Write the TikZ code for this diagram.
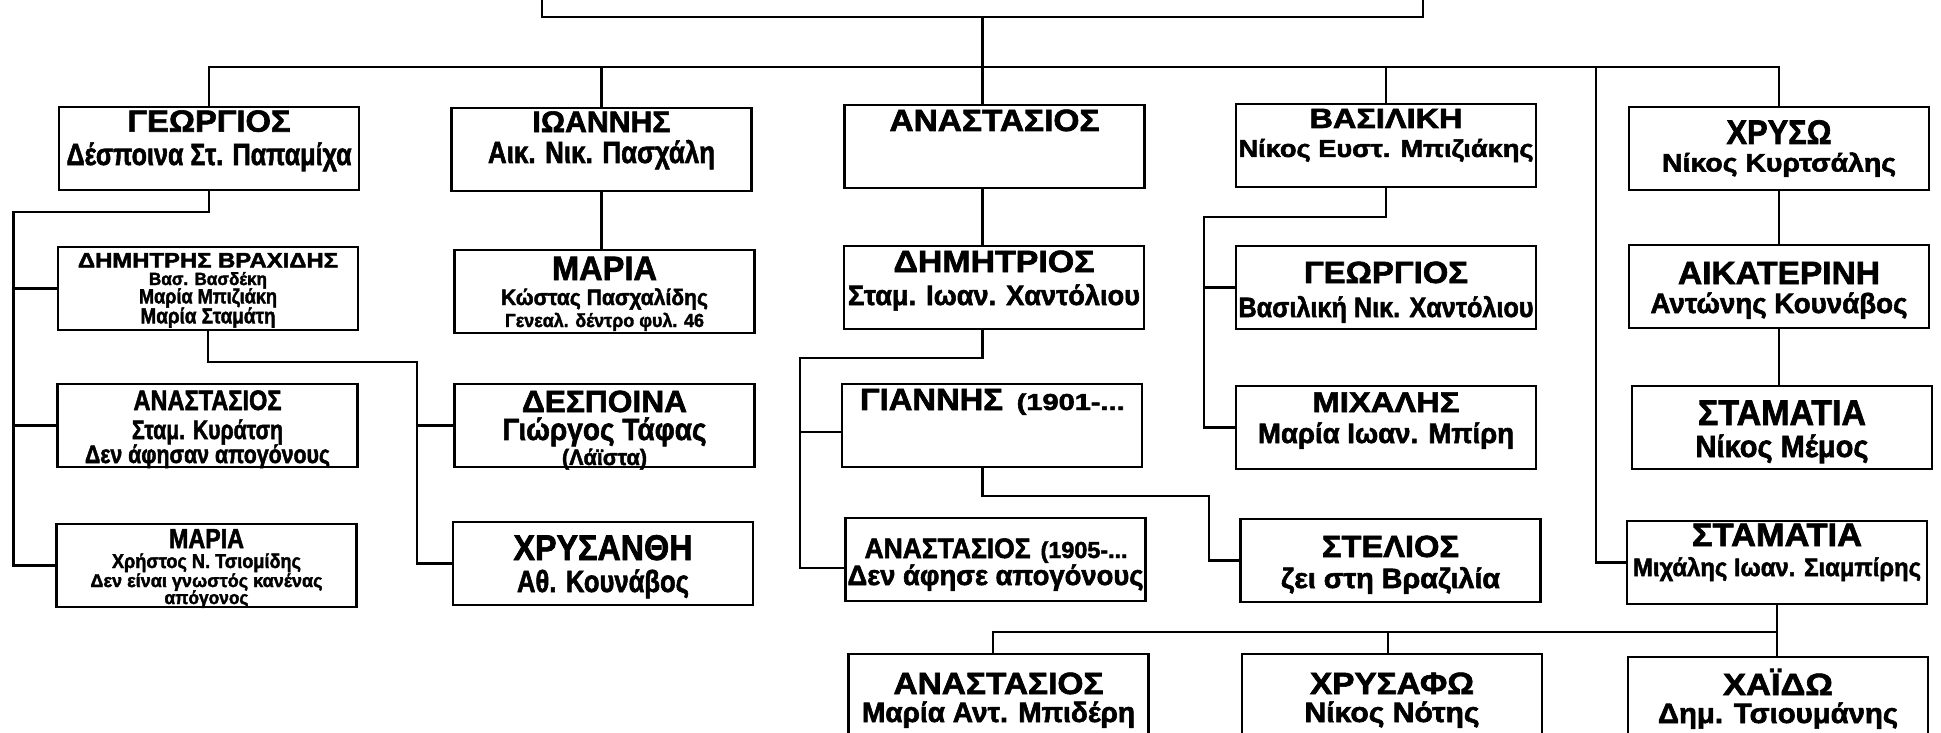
\documentclass[tikz,border=0pt]{standalone}
\usepackage{fontspec}
\setmainfont{Liberation Sans}[BoldFeatures={FakeBold=2}]
\usetikzlibrary{calc}
\newcommand\capf{1.1}
\newcommand\lc{1.2}
\newcommand\fitt[4][\capf]{\resizebox{#2pt}{#1\height}{\fontsize{#3pt}{#3pt}\selectfont\bfseries #4}}
\tikzset{
  box/.style={draw, line width=2.6pt, rectangle, minimum width=300pt, minimum height=83pt, inner sep=0pt, outer sep=0pt},
  tx/.style={anchor=base, inner sep=0pt, outer sep=0pt},
  link/.style={line width=2.4pt}
}
\begin{document}
\begin{tikzpicture}[x=1pt,y=-1pt]
\useasboundingbox (0,0) rectangle (1941,733);
\clip (0,0) rectangle (1941,733);
% boxes
\node[box, minimum width=881pt, minimum height=80pt] (T) at (982.5,-23) {};
\node[box] (B1) at (209,148.5) {};
\node[box] (B2) at (601.5,149.5) {};
\node[box] (B3) at (994.5,146.5) {};
\node[box] (B4) at (1386,145.5) {};
\node[box] (B5) at (1779,148.5) {};
\node[box] (B1a) at (208,288.5) {};
\node[box] (B1b) at (207.5,425.5) {};
\node[box] (B1c) at (206.5,565.5) {};
\node[box] (B2a) at (604.5,291.5) {};
\node[box] (B1a1) at (604.5,425.5) {};
\node[box] (B1a2) at (603,563.5) {};
\node[box] (B3a) at (994,287.5) {};
\node[box] (B3a1) at (992,425.5) {};
\node[box] (B3a2) at (995.5,559.5) {};
\node[box] (B3a1a) at (1390.5,560.5) {};
\node[box] (B4a) at (1386,287.5) {};
\node[box] (B4b) at (1386,427.5) {};
\node[box] (B5a) at (1779,286.5) {};
\node[box] (B5b) at (1782,427.5) {};
\node[box] (B6) at (1777,562.5) {};
\node[box] (B6a) at (998.5,695.5) {};
\node[box] (B6b) at (1392,695.5) {};
\node[box] (B6c) at (1778,698.5) {};
% connectors
\coordinate (bar) at (0,67);
\coordinate (x3) at (982.5,0);
\draw[link] (T.south) -- (T.south |- B3.north);
\draw[link] (B1.north) |- (B5.north |- bar) -- (B5.north);
\draw[link] (B2.north) -- (B2.north |- bar);
\draw[link] (B4.north) -- (B4.north |- bar);
\coordinate (v6) at (1596,67);
\draw[link] (v6) |- (B6.west);
\coordinate (g1) at (13.5,212);
\draw[link] (B1.south) |- (g1) |- (B1c.west);
\draw[link] (g1 |- B1a.west) -- (B1a.west);
\draw[link] (g1 |- B1b.west) -- (B1b.west);
\coordinate (g2) at (417,362);
\draw[link] (B1a.south) |- (g2) |- (B1a2.west);
\draw[link] (g2 |- B1a1.west) -- (B1a1.west);
\draw[link] (B2.south) -- (B2.south |- B2a.north);
\draw[link] (B3.south -| x3) -- (B3a.north -| x3);
\coordinate (g3) at (800,358);
\coordinate (h31) at (800,432);
\coordinate (h32) at (800,568);
\draw[link] (B3a.south -| x3) |- (g3) |- (B3a2.west |- h32);
\draw[link] (h31) -- (B3a1.west |- h31);
\coordinate (g4) at (1209,496);
\draw[link] (B3a1.south -| x3) |- (g4) |- (B3a1a.west);
\coordinate (g5) at (1204,217);
\draw[link] (B4.south) |- (g5) |- (B4b.west);
\draw[link] (g5 |- B4a.west) -- (B4a.west);
\draw[link] (B5.south) -- (B5.south |- B5a.north);
\draw[link] (B5a.south) -- (B5a.south |- B5b.north);
\coordinate (bar2) at (993,632);
\coordinate (x6b) at (1388,0);
\draw[link] (B6.south) -- (B6.south |- B6c.north);
\draw[link] (B6.south |- bar2) -- (bar2) -- (bar2 |- B6a.north);
\draw[link] (x6b |- bar2) -- (x6b |- B6b.north);
% texts
\node[tx] (t1a) at (209,131.7) {\fitt{163}{27.9}{ΓΕΩΡΓΙΟΣ}};
\node[tx] (t1b) at (209,165) {\fitt[\lc]{285}{25.6}{Δέσποινα Στ. Παπαμίχα}};
\node[tx] (t2a) at (601.5,132) {\fitt{138}{27}{ΙΩΑΝΝΗΣ}};
\node[tx] (t2b) at (601.5,163) {\fitt[\lc]{227}{25.6}{Αικ. Νικ. Πασχάλη}};
\node[tx] (t3a) at (994.5,131) {\fitt{210}{27.9}{ΑΝΑΣΤΑΣΙΟΣ}};
\node[tx] (t4a) at (1386,128) {\fitt[1]{153}{27.9}{ΒΑΣΙΛΙΚΗ}};
\node[tx] (t4b) at (1386,157) {\fitt[1.05]{295}{23.3}{Νίκος Ευστ. Μπιζιάκης}};
\node[tx] (t5a) at (1779,144) {\fitt[1.05]{105}{32.5}{ΧΡΥΣΩ}};
\node[tx] (t5b) at (1779,171.5) {\fitt[1.05]{234}{24.2}{Νίκος Κυρτσάλης}};
\node[tx] (t1aa) at (208,267.5) {\fitt[1]{260}{21}{ΔΗΜΗΤΡΗΣ ΒΡΑΧΙΔΗΣ}};
\node[tx] (t1ab) at (208,285) {\fitt[1.05]{118}{16.8}{Βασ. Βασδέκη}};
\node[tx] (t1ac) at (208,303.3) {\fitt[1.1]{138}{18.6}{Μαρία Μπιζιάκη}};
\node[tx] (t1ad) at (208,323.3) {\fitt[1.1]{135}{19.6}{Μαρία Σταμάτη}};
\node[tx] (t1ba) at (207.5,410) {\fitt{148}{25.6}{ΑΝΑΣΤΑΣΙΟΣ}};
\node[tx] (t1bb) at (207.5,439) {\fitt[\lc]{151}{22.3}{Σταμ. Κυράτση}};
\node[tx] (t1bc) at (207.5,463) {\fitt[\lc]{245}{21}{Δεν άφησαν απογόνους}};
\node[tx] (t1ca) at (206.5,548) {\fitt{75}{25}{ΜΑΡΙΑ}};
\node[tx] (t1cb) at (206.5,568) {\fitt[1.1]{189}{18.2}{Χρήστος Ν. Τσιομίδης}};
\node[tx] (t1cc) at (206.5,587) {\fitt[1.1]{232}{16.8}{Δεν είναι γνωστός κανένας}};
\node[tx] (t1cd) at (206.5,604) {\fitt[1.1]{84}{16.8}{απόγονος}};
\node[tx] (t2aa) at (604.5,280) {\fitt{105}{30.7}{ΜΑΡΙΑ}};
\node[tx] (t2ab) at (604.5,305) {\fitt[\lc]{207}{18.6}{Κώστας Πασχαλίδης}};
\node[tx] (t2ac) at (604.5,327) {\fitt[\lc]{199}{15.8}{Γενεαλ. δέντρο φυλ. 46}};
\node[tx] (t1a1a) at (604.5,412) {\fitt{165}{27.9}{ΔΕΣΠΟΙΝΑ}};
\node[tx] (t1a1b) at (604.5,440) {\fitt[\lc]{204}{25.6}{Γιώργος Τάφας}};
\node[tx] (t1a1c) at (604.5,465) {\fitt[\lc]{85}{18.6}{(Λάϊστα)}};
\node[tx] (t1a2a) at (603,560) {\fitt{179}{32.5}{ΧΡΥΣΑΝΘΗ}};
\node[tx] (t1a2b) at (603,592) {\fitt[\lc]{172}{25.6}{Αθ. Κουνάβος}};
\node[tx] (t3aa) at (994,272) {\fitt{201}{27.9}{ΔΗΜΗΤΡΙΟΣ}};
\node[tx] (t3ab) at (994,305) {\fitt[\lc]{292}{23.3}{Σταμ. Ιωαν. Χαντόλιου}};
\node[tx, anchor=base west] (t3a1a) at (860,410) {\fitt{143}{27.9}{ΓΙΑΝΝΗΣ}\hspace{13.7pt}\fitt{108}{21}{(1901-...}};
\node[tx, anchor=base west] (t3a2a) at (864.6,558) {\fitt{166}{25.6}{ΑΝΑΣΤΑΣΙΟΣ}\hspace{10pt}\fitt{87}{21}{(1905-...}};
\node[tx] (t3a2b) at (995.5,585) {\fitt[\lc]{296}{23.3}{Δεν άφησε απογόνους}};
\node[tx] (t3a1aa) at (1390.5,557) {\fitt{137}{27.9}{ΣΤΕΛΙΟΣ}};
\node[tx] (t3a1ab) at (1390.5,588) {\fitt[\lc]{219}{23.3}{ζει στη Βραζιλία}};
\node[tx] (t4aa) at (1386,283) {\fitt{164}{27.9}{ΓΕΩΡΓΙΟΣ}};
\node[tx] (t4ab) at (1386,317) {\fitt[\lc]{295}{23.3}{Βασιλική Νικ. Χαντόλιου}};
\node[tx] (t4ba) at (1386,412) {\fitt{147}{26}{ΜΙΧΑΛΗΣ}};
\node[tx] (t4bb) at (1386,443) {\fitt[\lc]{256}{23.3}{Μαρία Ιωαν. Μπίρη}};
\node[tx] (t5aa) at (1779,284) {\fitt{202}{29.3}{ΑΙΚΑΤΕΡΙΝΗ}};
\node[tx] (t5ab) at (1779,313) {\fitt[\lc]{257}{23.3}{Αντώνης Κουνάβος}};
\node[tx] (t5ba) at (1782,425) {\fitt{168}{32.5}{ΣΤΑΜΑΤΙΑ}};
\node[tx] (t5bb) at (1782,457) {\fitt[\lc]{173}{25.6}{Νίκος Μέμος}};
\node[tx] (t6a) at (1777,546) {\fitt[1]{170}{32.5}{ΣΤΑΜΑΤΙΑ}};
\node[tx] (t6b) at (1777,576) {\fitt[1.08]{288}{23.3}{Μιχάλης Ιωαν. Σιαμπίρης}};
\node[tx] (t6aa) at (998.5,694) {\fitt{210}{27.9}{ΑΝΑΣΤΑΣΙΟΣ}};
\node[tx] (t6ab) at (998.5,722) {\fitt[\lc]{273}{23.3}{Μαρία Αντ. Μπιδέρη}};
\node[tx] (t6ba) at (1392,694) {\fitt{164}{27.9}{ΧΡΥΣΑΦΩ}};
\node[tx] (t6bb) at (1392,722) {\fitt[\lc]{175}{23.3}{Νίκος Νότης}};
\node[tx] (t6ca) at (1778,695) {\fitt{110}{27.9}{ΧΑΪΔΩ}};
\node[tx] (t6cb) at (1778,723) {\fitt[\lc]{240}{23.3}{Δημ. Τσιουμάνης}};
\end{tikzpicture}
\end{document}
